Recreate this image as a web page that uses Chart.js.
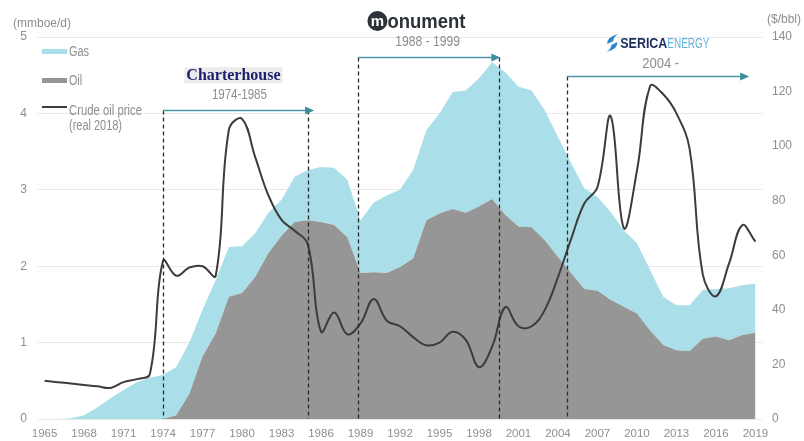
<!DOCTYPE html>
<html><head><meta charset="utf-8">
<script src="https://cdn.jsdelivr.net/npm/chart.js@4/dist/chart.umd.min.js"></script>
<style>html,body{margin:0;padding:0;background:#fff;}#wrap{width:804px;height:441px;position:relative;}</style>
</head><body><div id="wrap"><canvas id="c" width="804" height="441"></canvas></div>
<script>
const years = [1965,1966,1967,1968,1969,1970,1971,1972,1973,1974,1975,1976,1977,1978,1979,1980,1981,1982,1983,1984,1985,1986,1987,1988,1989,1990,1991,1992,1993,1994,1995,1996,1997,1998,1999,2000,2001,2002,2003,2004,2005,2006,2007,2008,2009,2010,2011,2012,2013,2014,2015,2016,2017,2018,2019];
const xTickYears = [1965,1968,1971,1974,1977,1980,1983,1986,1989,1992,1995,1998,2001,2004,2007,2010,2013,2016,2019];
// production, mmboe/d
const oil = [0,0,0,0,0,0,0,0,0,0,0.05,0.33,0.82,1.12,1.6,1.65,1.86,2.17,2.4,2.58,2.6,2.58,2.54,2.38,1.91,1.92,1.91,1.99,2.1,2.6,2.69,2.75,2.7,2.78,2.88,2.67,2.52,2.51,2.34,2.12,1.91,1.7,1.68,1.56,1.47,1.38,1.16,0.97,0.9,0.89,1.05,1.08,1.03,1.1,1.13];
const gas = [0,0,0.01,0.05,0.15,0.27,0.38,0.48,0.54,0.58,0.63,0.67,0.61,0.7,0.65,0.61,0.57,0.53,0.47,0.59,0.66,0.72,0.75,0.75,0.69,0.91,1.02,1.01,1.16,1.18,1.31,1.53,1.6,1.68,1.79,1.87,1.83,1.79,1.7,1.57,1.44,1.32,1.23,1.15,1.0,0.92,0.79,0.63,0.59,0.6,0.64,0.62,0.68,0.65,0.64];
// crude oil price, $/bbl (real 2018)
const oilPrice = [14,13.5,13,12.5,12,11.4,13.5,14.6,16.5,58,52.5,55.5,56,52.5,106,110,96,82,73,69,64,32,39,31,35,44,36,34,30,27,28,32,29,19,26.5,41,34,34,40,52,66,79,85,111,70,91,122,119,112,99,53,45,57,71,65];
const leftTicks = [0,1,2,3,4,5];
const rightTicks = [0,20,40,60,80,100,120,140];
// ownership periods
const periodLabels = ['1974-1985','1988 - 1999','2004 -'];
const periodStart = [1974,1988.8,2004.7];
const periodEnd = [1985,1999.55,null];
const periodArrowTo = [1985.4,1999.55,2018.45];

const GREY_TXT = '#8e8e8e';
const SANS = '"Liberation Sans", Arial, sans-serif';

const annot = {
  id:'annot',
  afterDatasetsDraw(chart){
    const ctx = chart.ctx, x = chart.scales.x, y = chart.scales.y, ca = chart.chartArea;
    const px = yr => x.getPixelForValue(yr - years[0]);
    const arrowLevels = [4.04,4.74,4.49];
    const textLevels = [4.24,4.93,4.64];
    const textYears = [1979.8,1994.1,2011.8];
    const textWidths = [55,65,37];
    ctx.save();
    for(let i=0;i<periodLabels.length;i++){
      const ay = Math.round(y.getPixelForValue(arrowLevels[i]))+0.5;
      const x0 = px(periodStart[i]);
      const x1 = px(periodArrowTo[i]);
      ctx.strokeStyle='#2a2a2a'; ctx.lineWidth=1.3; ctx.setLineDash([4,3]);
      const dl = [periodStart[i]]; if(periodEnd[i]!==null) dl.push(periodEnd[i]);
      dl.forEach(v=>{const xx=Math.round(px(v))+0.5; ctx.beginPath(); ctx.moveTo(xx,ay); ctx.lineTo(xx,ca.bottom); ctx.stroke();});
      ctx.setLineDash([]);
      ctx.strokeStyle='#4b98a6'; ctx.lineWidth=1.6;
      ctx.beginPath(); ctx.moveTo(x0,ay); ctx.lineTo(x1-6,ay); ctx.stroke();
      ctx.fillStyle='#3d8f9f';
      ctx.beginPath(); ctx.moveTo(x1+1,ay); ctx.lineTo(x1-8,ay-4); ctx.lineTo(x1-8,ay+4); ctx.closePath(); ctx.fill();
      ctx.fillStyle=GREY_TXT; ctx.font='14px '+SANS; ctx.textAlign='center'; ctx.textBaseline='middle';
      ctx.fillText(periodLabels[i], px(textYears[i]), y.getPixelForValue(textLevels[i]), textWidths[i]);
    }
    ctx.restore();
  },
  afterDraw(chart){
    const ctx = chart.ctx, x = chart.scales.x, y = chart.scales.y, ca = chart.chartArea;
    const px = yr => x.getPixelForValue(yr - years[0]);
    ctx.save();
    ctx.fillStyle=GREY_TXT; ctx.font='12px '+SANS; ctx.textBaseline='middle';
    ctx.textAlign='left'; ctx.fillText('(mmboe/d)', 13, ca.top-13);
    ctx.fillText('($/bbl)', 767, ca.top-17);
    // legend
    const lx = ca.left+4;
    ctx.fillStyle='#aadfe9'; ctx.fillRect(lx, ca.top+12, 25, 5);
    ctx.fillStyle='#969696'; ctx.fillRect(lx, ca.top+41, 25, 5);
    ctx.strokeStyle='#3c3c3c'; ctx.lineWidth=2; ctx.beginPath(); ctx.moveTo(lx, ca.top+70); ctx.lineTo(lx+25, ca.top+70); ctx.stroke();
    ctx.fillStyle=GREY_TXT; ctx.font='14px '+SANS; ctx.textAlign='left';
    ctx.fillText('Gas', lx+27, ca.top+15, 20);
    ctx.fillText('Oil', lx+27, ca.top+44, 13);
    ctx.fillText('Crude oil price', lx+27, ca.top+74, 73);
    ctx.fillText('(real 2018)', lx+27, ca.top+89, 53);
    // Charterhouse label
    const cx = px(1979.35), cy = y.getPixelForValue(4.5);
    ctx.fillStyle='#ececec'; ctx.fillRect(cx-49, cy-8, 98, 16);
    ctx.fillStyle='#1c1f6b'; ctx.font='bold 16px "Liberation Serif", "DejaVu Serif", serif'; ctx.textAlign='center';
    ctx.fillText('Charterhouse', cx, cy+1, 96);
    // monument logo
    const mx = px(1993.4), my = ca.top-16;
    ctx.fillStyle='#2c3238'; ctx.beginPath(); ctx.arc(mx-41, my, 10, 0, Math.PI*2); ctx.fill();
    ctx.fillStyle='#ffffff'; ctx.font='bold 15px '+SANS; ctx.textAlign='center'; ctx.fillText('m', mx-41, my+1);
    ctx.fillStyle='#2c3238'; ctx.font='bold 20px '+SANS; ctx.textAlign='left'; ctx.fillText('onument', mx-31, my+1, 78);
    // Serica logo
    const sx = px(2011.7)-55, sy = y.getPixelForValue(4.92);
    ctx.fillStyle='#2f86c6';
    ctx.beginPath(); ctx.moveTo(sx+14, sy-9); ctx.quadraticCurveTo(sx+2, sy-6, sx+3, sy+1); ctx.lineTo(sx+9, sy-2); ctx.quadraticCurveTo(sx+9, sy-6, sx+14, sy-9); ctx.fill();
    ctx.beginPath(); ctx.moveTo(sx+2, sy+9); ctx.quadraticCurveTo(sx+14, sy+6, sx+13, sy-1); ctx.lineTo(sx+7, sy+2); ctx.quadraticCurveTo(sx+7, sy+6, sx+2, sy+9); ctx.fill();
    ctx.fillStyle='#1e2f5c'; ctx.font='bold 15px '+SANS; ctx.textAlign='left'; ctx.fillText('SERICA', sx+16, sy+1, 47);
    ctx.fillStyle='#63b3dc'; ctx.font='15px '+SANS; ctx.fillText('ENERGY', sx+63, sy+1, 42);
    ctx.restore();
  }
};

new Chart(document.getElementById('c'), {
  type:'line',
  data:{ labels: years.map(String), datasets:[
    {label:'Crude oil price (real 2018)', data: oilPrice, yAxisID:'y1', borderColor:'#3c3c3c', borderWidth:2, pointRadius:0, tension:0.4, fill:false, order:0},
    {label:'Oil', data: oil, yAxisID:'y', backgroundColor:'#969696', borderColor:'rgba(0,0,0,0)', borderWidth:0, pointRadius:0, tension:0, fill:'origin', order:1, stack:'prod'},
    {label:'Gas', data: gas, yAxisID:'y', backgroundColor:'#aadfe9', borderColor:'rgba(0,0,0,0)', borderWidth:0, pointRadius:0, tension:0, fill:'-1', order:1, stack:'prod'}
  ]},
  options:{
    responsive:false, animation:false, devicePixelRatio:1,
    layout:{padding:{top:37,left:0,right:0,bottom:0}},
    plugins:{legend:{display:false}, tooltip:{enabled:false}},
    scales:{
      x:{type:'category', offset:true, grid:{display:false, drawTicks:false}, border:{display:false},
         ticks:{autoSkip:false, maxRotation:0, minRotation:0, padding:8, color:GREY_TXT, font:{family:SANS, size:11.5},
           callback:(v,i)=> xTickYears.includes(years[i]) ? String(years[i]) : ''},
         afterFit:s=>{s.height=22;}},
      y:{position:'left', stacked:true, min:0, max:5,
         afterBuildTicks:s=>{s.ticks = leftTicks.map(v=>({value:v}));},
         ticks:{padding:11, color:GREY_TXT, font:{family:SANS, size:12}},
         grid:{color:'#e9e9e9', drawTicks:false, lineWidth:1}, border:{display:false},
         afterFit:s=>{s.width=38;}},
      y1:{position:'right', min:0, max:140,
         afterBuildTicks:s=>{s.ticks = rightTicks.map(v=>({value:v}));},
         ticks:{padding:10, color:GREY_TXT, font:{family:SANS, size:12}},
         grid:{display:false, drawTicks:false}, border:{display:false},
         afterFit:s=>{s.width=42;}}
    }
  },
  plugins:[annot]
});
</script></body></html>
